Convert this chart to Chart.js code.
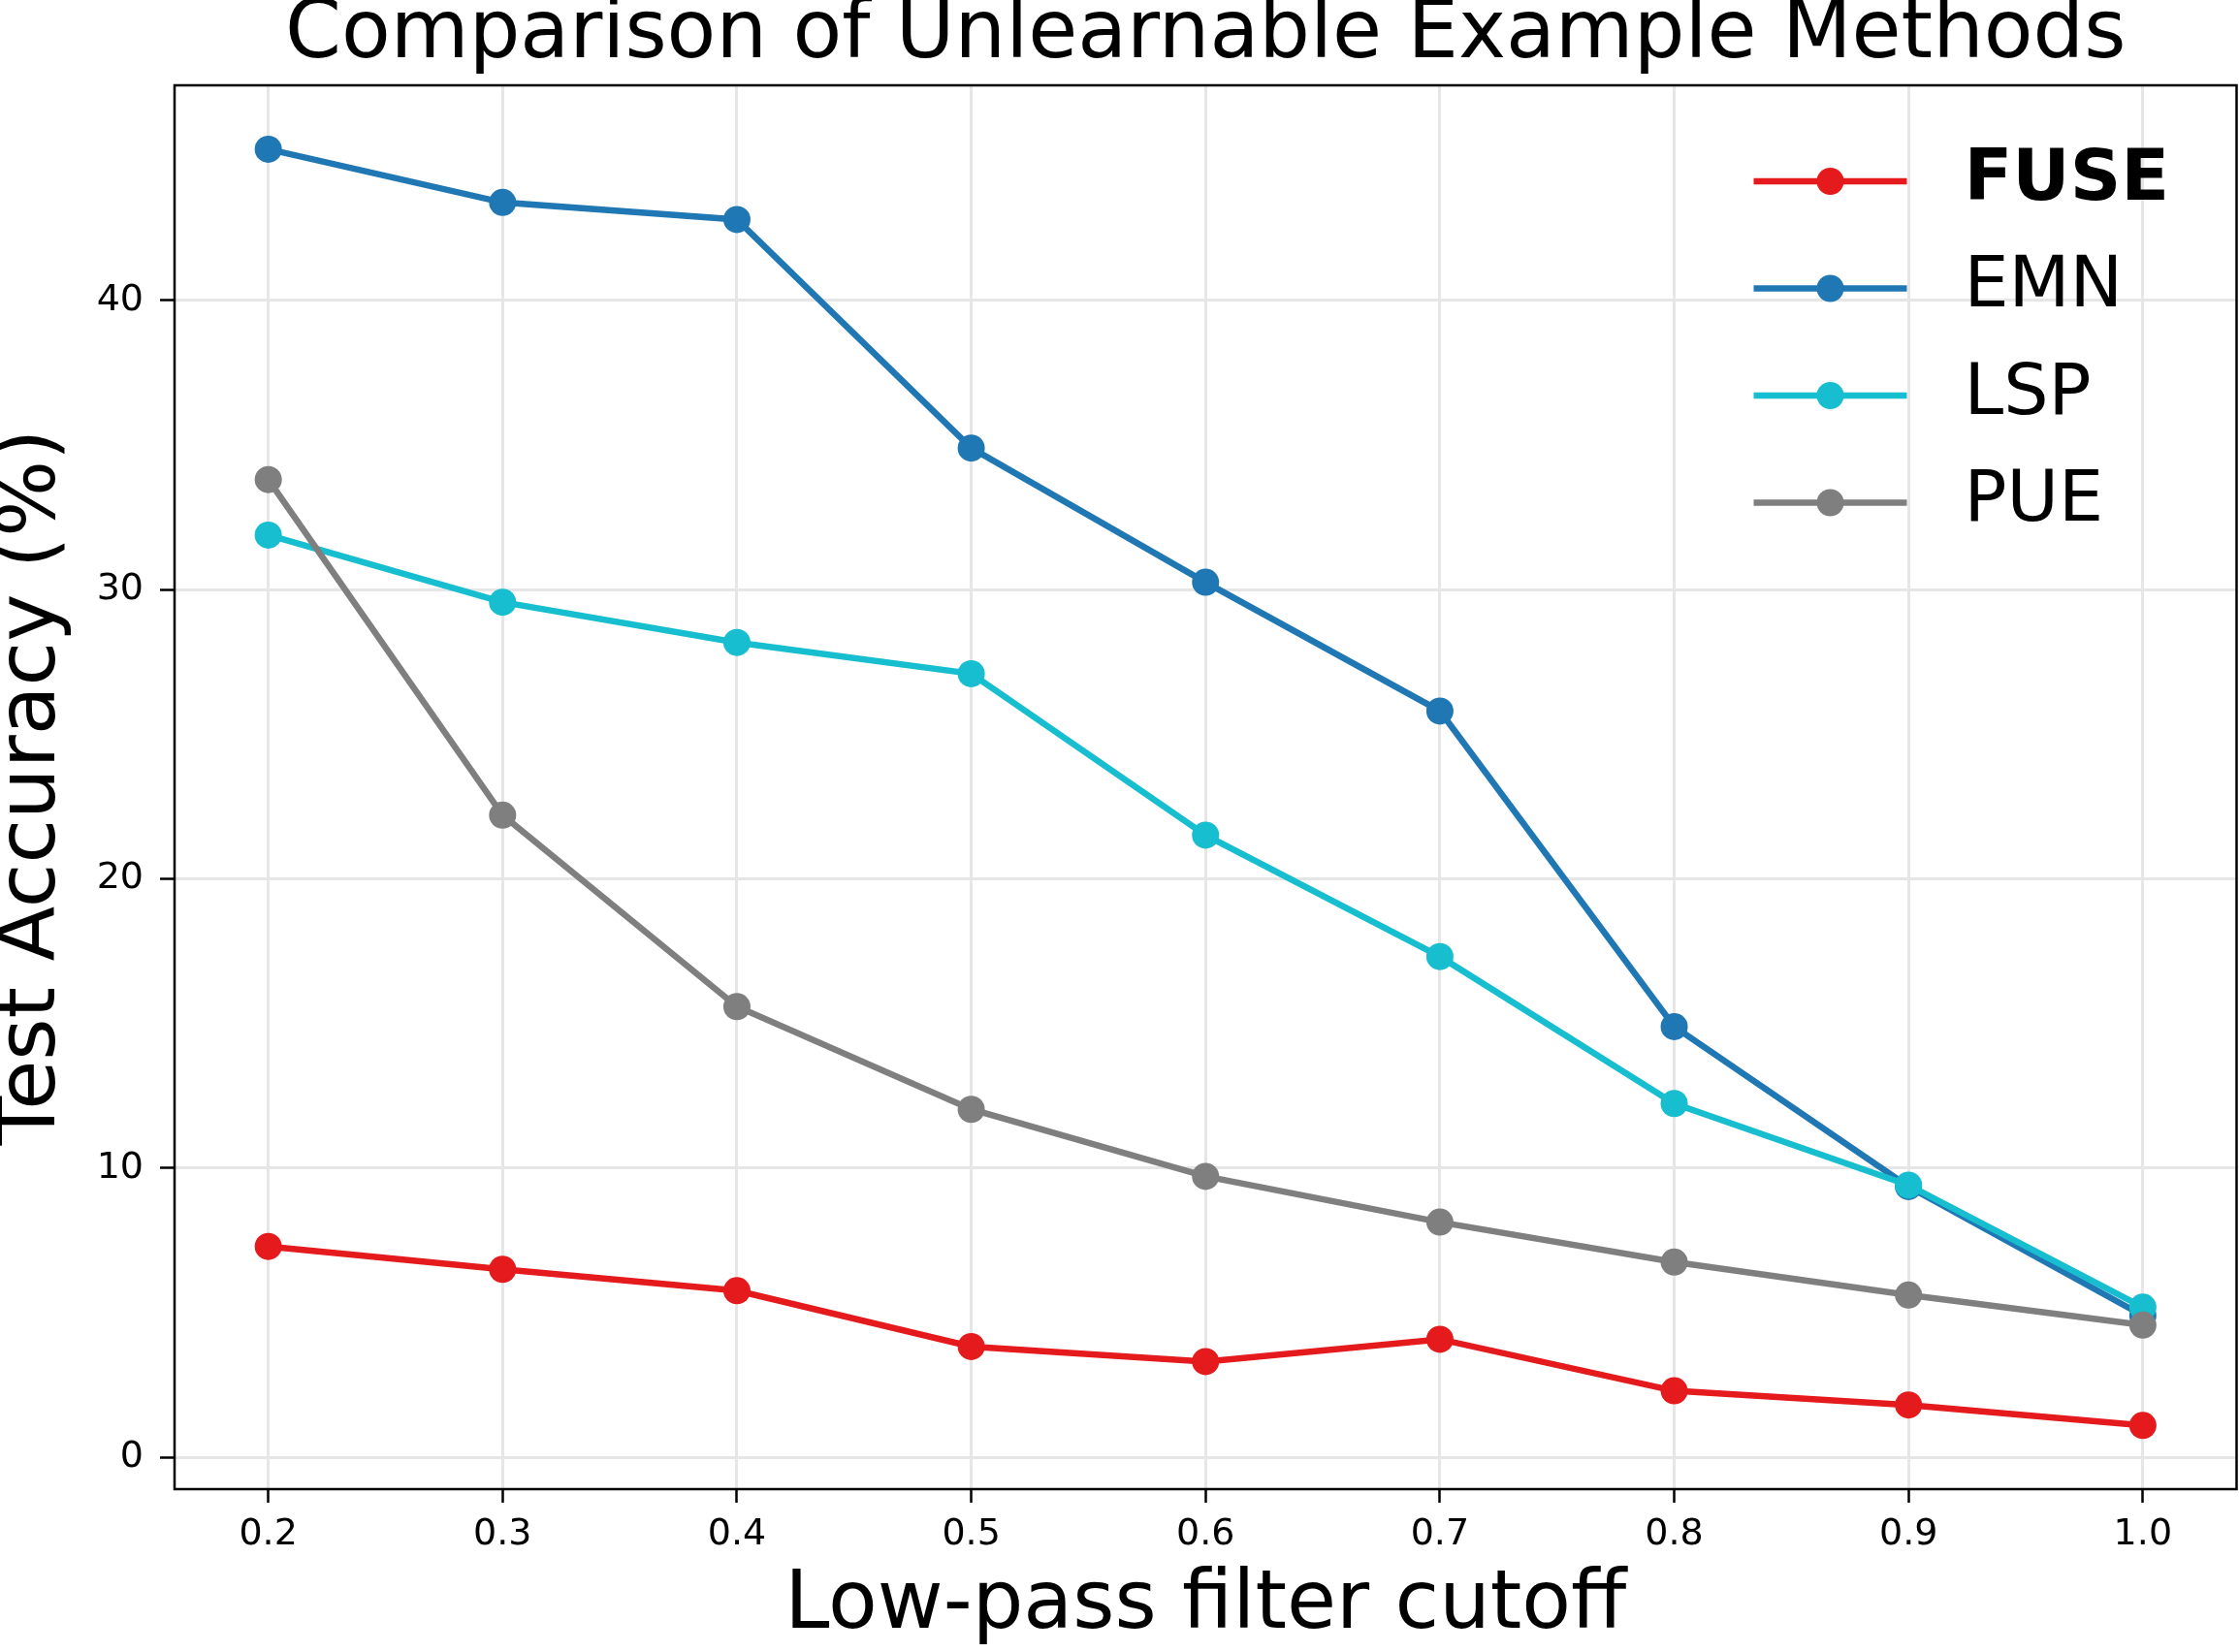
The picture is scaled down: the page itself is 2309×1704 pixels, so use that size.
<!DOCTYPE html>
<html>
<head>
<meta charset="utf-8">
<script src="https://cdn.jsdelivr.net/npm/chart.js@4.4.1/dist/chart.umd.min.js"></script>
<style>
  html, body { margin: 0; padding: 0; background: #fff; }
  #wrap { width: 2309px; height: 1704px; }
</style>
</head>
<body>
<div id="wrap"><canvas id="myChart" width="2309" height="1704"></canvas></div>
<script>
// data
const cutoffs = [0.2, 0.3, 0.4, 0.5, 0.6, 0.7, 0.8, 0.9, 1.0];
const fuse = [7.29, 6.50, 5.76, 3.83, 3.31, 4.08, 2.30, 1.81, 1.10];
const emn  = [45.22, 43.38, 42.79, 34.89, 30.25, 25.80, 14.89, 9.36, 4.90];
const lsp  = [31.88, 29.56, 28.17, 27.09, 21.51, 17.31, 12.23, 9.41, 5.19];
const pue  = [33.80, 22.20, 15.58, 12.03, 9.71, 8.13, 6.75, 5.61, 4.57];
const xTicks = [0.2, 0.3, 0.4, 0.5, 0.6, 0.7, 0.8, 0.9, 1.0];
const yTicks = [0, 10, 20, 30, 40];

const FONT = 'DejaVu Sans';

function pts(vals) {
  return cutoffs.map((c, i) => ({ x: c, y: vals[i] }));
}

function series(label, vals, color, order, bold) {
  return {
    label: label,
    data: pts(vals),
    borderColor: color,
    backgroundColor: color,
    pointBackgroundColor: color,
    pointBorderWidth: 0,
    pointRadius: 14,
    pointHoverRadius: 14,
    borderWidth: 6.5,
    tension: 0,
    fill: false,
    order: order,
    boldLabel: bold
  };
}

const data = {
  datasets: [
    series('FUSE', fuse, '#e41a1c', 3, true),
    series('EMN', emn, '#1f77b4', 2, false),
    series('LSP', lsp, '#17becf', 1, false),
    series('PUE', pue, '#7f7f7f', 0, false)
  ]
};

// frame on all four sides + matplotlib style legend
const framePlugin = {
  id: 'frame',
  afterDraw(chart) {
    const c = chart.ctx;
    const a = chart.chartArea;
    c.save();
    c.strokeStyle = '#000';
    c.lineWidth = 2.5;
    c.strokeRect(a.left, a.top, a.right - a.left, a.bottom - a.top);

    const lineX0 = a.right - 498, lineX1 = a.right - 340;
    const textX = a.right - 281;
    const rowY0 = a.top + 99, rowGap = 110.5;
    chart.data.datasets.forEach((ds, i) => {
      const y = rowY0 + i * rowGap;
      c.strokeStyle = ds.borderColor;
      c.lineWidth = ds.borderWidth;
      c.beginPath();
      c.moveTo(lineX0, y);
      c.lineTo(lineX1, y);
      c.stroke();
      c.fillStyle = ds.borderColor;
      c.beginPath();
      c.arc((lineX0 + lineX1) / 2, y, 14, 0, Math.PI * 2);
      c.fill();
      c.fillStyle = '#000';
      c.textBaseline = 'middle';
      c.textAlign = 'left';
      c.font = (ds.boldLabel ? 'bold ' : '') + '73px "' + FONT + '"';
      c.fillText(ds.label, textX, y);
    });
    c.restore();
  }
};

const CONFIG = {
  type: 'line',
  data: data,
  options: {
    responsive: false,
    animation: false,
    layout: { autoPadding: false, padding: { left: 0, right: 2.5, top: 0, bottom: 0 } },
    plugins: {
      legend: { display: false },
      tooltip: { enabled: false },
      title: {
        display: true,
        text: 'Comparison of Unlearnable Example Methods',
        color: '#000',
        fullSize: false,
        font: { family: FONT, size: 83, weight: 'normal', lineHeight: 0.9 },
        padding: { top: 0, bottom: 13.3 }
      }
    },
    scales: {
      x: {
        type: 'linear',
        min: 0.16,
        max: 1.04,
        afterBuildTicks: s => { s.ticks = xTicks.map(v => ({ value: v })); },
        afterFit: s => { s.height = 168; s.paddingLeft = 0; s.paddingRight = 0; },
        grid: { color: '#e6e6e6', lineWidth: 3, tickColor: '#000', tickWidth: 2.5, tickLength: 14 },
        border: { display: false },
        ticks: {
          color: '#000',
          padding: 10,
          maxRotation: 0,
          font: { family: FONT, size: 38 },
          callback: v => v.toFixed(1)
        },
        title: {
          display: true,
          text: 'Low-pass filter cutoff',
          color: '#000',
          font: { family: FONT, size: 83, lineHeight: 1.0 },
          padding: { top: 0, bottom: 5.5 }
        }
      },
      y: {
        type: 'linear',
        min: -1.1,
        max: 47.43,
        afterBuildTicks: s => { s.ticks = yTicks.map(v => ({ value: v })); },
        afterFit: s => { s.width = 180; s.paddingTop = 0; s.paddingBottom = 0; },
        grid: { color: '#e6e6e6', lineWidth: 3, tickColor: '#000', tickWidth: 2.5, tickLength: 15 },
        border: { display: false },
        ticks: {
          color: '#000',
          padding: 17,
          font: { family: FONT, size: 38 },
          callback: v => String(v)
        },
        title: {
          display: true,
          text: 'Test Accuracy (%)',
          color: '#000',
          font: { family: FONT, size: 83, lineHeight: 0.83 },
          padding: { top: 0, bottom: 0 }
        }
      }
    }
  },
  plugins: [framePlugin]
};

const ctx = document.getElementById('myChart');
const chart = new Chart(ctx, CONFIG);
</script>
</body>
</html>
